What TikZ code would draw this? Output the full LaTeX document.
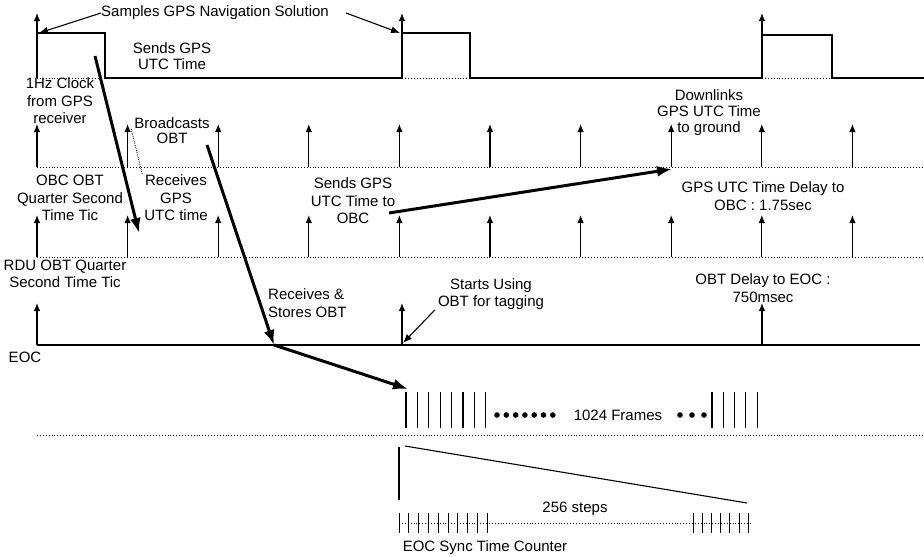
\documentclass[tikz,border=0pt]{standalone}
\usepackage{fontspec}
\setmainfont{Liberation Sans}
\usetikzlibrary{arrows.meta}
\tikzset{
  tic/.style={-{Latex[length=8pt,width=6.5pt]},line width=1.2pt},
  ptr/.style={-{Latex[length=9pt,width=7pt]},line width=1.1pt},
  big/.style={-{Latex[length=15pt,width=11pt]},line width=3pt},
  base/.style={dotted,line width=0.9pt},
  wave/.style={line width=2pt},
  lbl/.style={align=center,inner sep=0pt,font=\fontsize{15}{17.5}\selectfont},
}
\begin{document}
\begin{tikzpicture}[x=1pt,y=-1pt]
  \useasboundingbox (0,0) rectangle (924,557);
  % GPS 1Hz clock
  \draw[base] (37,78) -- (924,78);
  \draw[wave] (37,78) -- (37,33) -- (105,33) -- (105,78) -- (402,78) -- (402,33) -- (470,33) -- (470,78)
    -- (762,78) -- (762,35) -- (832,35) -- (832,78) -- (924,78);
  \foreach \x in {37,402,762} \draw[tic] (\x,40) -- (\x,13);
  % OBC and RDU tics
  \draw[base] (37,167) -- (924,167);
  \draw[base] (37,257) -- (924,257);
  \foreach \i in {0,...,9} {
    \draw[tic] ({37+90.6*\i},167) -- ++(0,-43);
    \draw[tic] ({37+90.6*\i},257) -- ++(0,-42);
  }
  % EOC
  \draw[line width=1.3pt] (37,345) -- (920,345);
  \foreach \x in {37,402,762} \draw[tic] (\x,345) -- (\x,303);
  % frames
  \draw[base] (37,435) -- (924,435);
  \foreach \i in {0,...,7} \draw[line width=1.1pt] ({406+11.4*\i},392) -- ++(0,36);
  \foreach \i in {0,...,4} \draw[line width=1.1pt] ({712+11.3*\i},392) -- ++(0,36);
  \foreach \i in {0,...,6} \fill ({497+9.3*\i},415) circle (2.8pt);
  \foreach \x in {680,692,704} \fill (\x,415) circle (2.8pt);
  % sync counter
  \draw[line width=1.3pt] (399,447) -- (399,500);
  \draw[line width=1.1pt] (405,446) -- (747,503);
  \draw[base] (399,523) -- (750,523);
  \foreach \i in {0,...,9} \draw[line width=1pt] ({399+9.8*\i},513) -- ++(0,20);
  \foreach \i in {0,...,6} \draw[line width=1pt] ({693+9.2*\i},513) -- ++(0,20);

  % labels
  \node[lbl] (samples) at (215,13) {Samples GPS Navigation Solution};
  \node[lbl,font=\fontsize{15}{15.5}\selectfont] (sends) at (172,56) {Sends GPS\\UTC Time};
  \node[lbl] (clock) at (60,101) {1Hz Clock\\from GPS\\receiver};
  \node[lbl,font=\fontsize{15}{15}\selectfont] (bcast) at (172,131) {Broadcasts\\OBT};
  \node[lbl] (obc) at (70,198) {OBC OBT\\Quarter Second\\Time Tic};
  \node[lbl] (rcv) at (176,198) {Receives\\GPS\\UTC time};
  \node[lbl] (sendobc) at (353,201) {Sends GPS\\UTC Time to\\OBC};
  \node[lbl,font=\fontsize{15}{16}\selectfont] (down) at (709,113) {Downlinks\\GPS UTC Time\\to ground};
  \node[lbl] (dlyobc) at (763,196) {GPS UTC Time Delay to\\OBC : 1.75sec};
  \node[lbl] (rdu) at (65,274) {RDU OBT Quarter\\Second Time Tic};
  \node[lbl,align=left,anchor=west] (store) at (268,303) {Receives \&\\Stores OBT};
  \node[lbl] (start) at (491,294) {Starts Using\\OBT for tagging};
  \node[lbl] (dlyeoc) at (763,288) {OBT Delay to EOC :\\750msec};
  \node[lbl] (eoc) at (25,357) {EOC};
  \node[lbl] (frames) at (618,415) {1024 Frames};
  \node[lbl] (steps) at (575,509) {256 steps};
  \node[lbl] (count) at (485,548) {EOC Sync Time Counter};

  % connectors
  \coordinate (gpsA) at (39,33);
  \coordinate (gpsB) at (400,33);
  \coordinate (rcvtic) at (131,128);
  \coordinate (clkA) at (95,56);
  \coordinate (clkB) at (139,233);
  \coordinate (bcA) at (207,145);
  \coordinate (eochit) at (274,345);
  \coordinate (frhit) at (408,389);
  \coordinate (sgA) at (389,213);
  \coordinate (dlhit) at (672,169);
  \coordinate (starthit) at (403,343);
  \draw[ptr] (samples.west) -- (gpsA);
  \draw[ptr] ([xshift=17pt]samples.east) -- (gpsB);
  \draw[densely dotted,line width=0.8pt] ([xshift=-2pt,yshift=1pt]rcv.north west) -- (rcvtic);
  \draw[big] (clkA) -- (clkB);
  \draw[big] (bcA) -- (eochit);
  \draw[big] (eochit) -- (frhit);
  \draw[big] (sgA) -- (dlhit);
  \draw[ptr] ([xshift=-3pt]start.south west) -- (starthit);
\end{tikzpicture}
\end{document}
